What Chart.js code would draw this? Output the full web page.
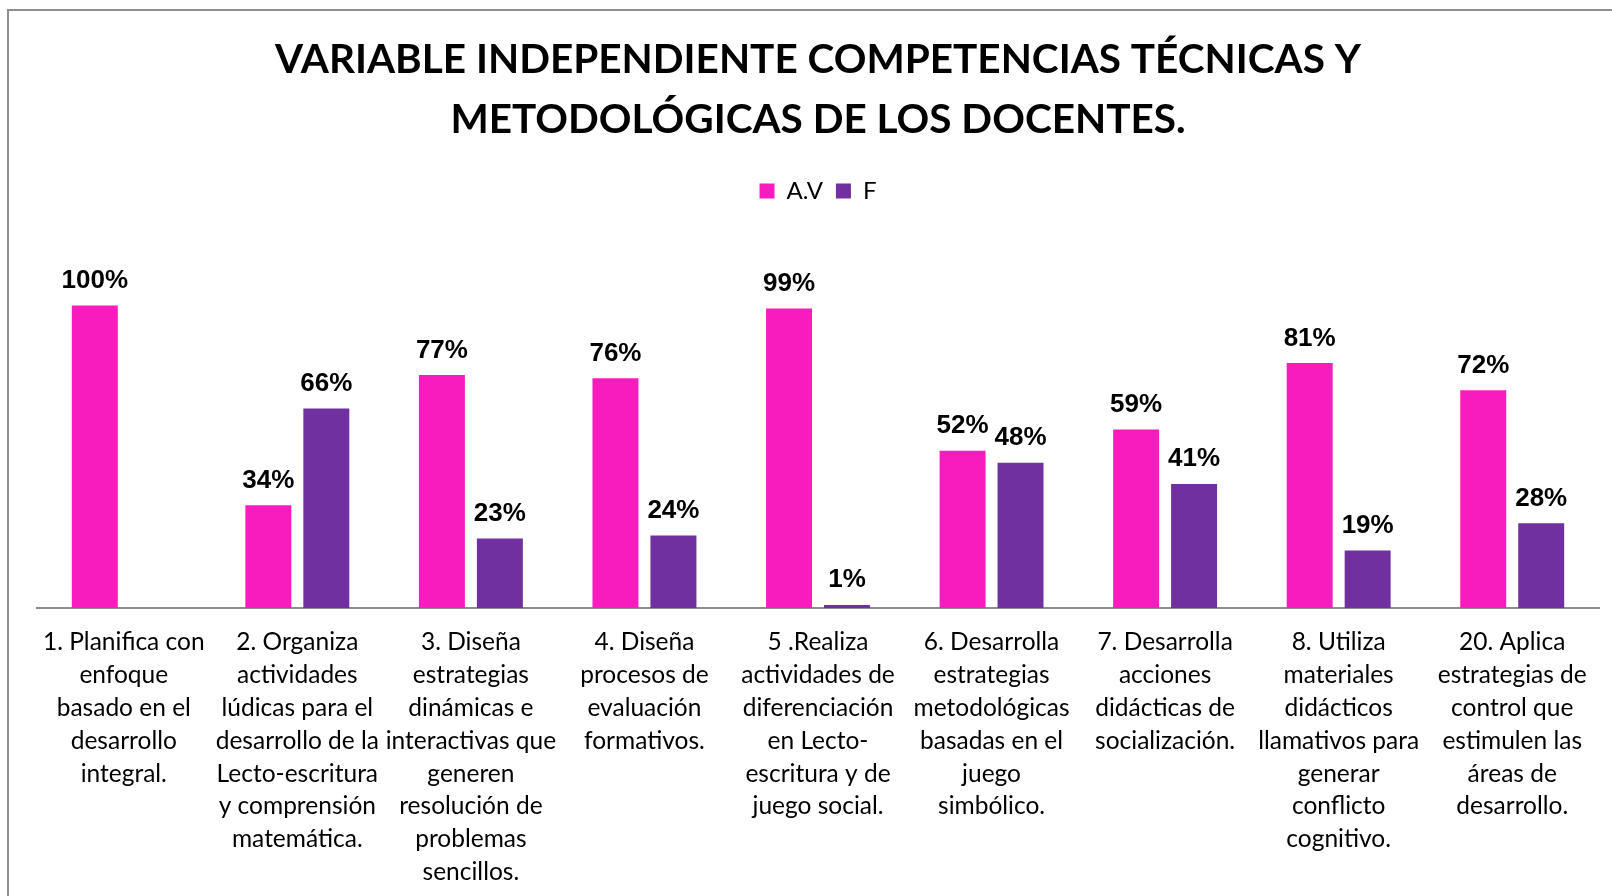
<!DOCTYPE html>
<html>
<head>
<meta charset="utf-8">
<script src="https://cdn.jsdelivr.net/npm/chart.js@4/dist/chart.umd.min.js"></script>
<style>
  html, body { margin: 0; padding: 0; background: #fff; overflow: hidden; width: 1612px; height: 896px; }
  #frame { position: absolute; left: 7px; top: 9px; width: 1620px; height: 900px;
           border-left: 2px solid #8f8f8f; border-top: 2px solid #8f8f8f; background: #fff; }
  canvas { display: block; }
</style>
</head>
<body>
<div id="frame"><canvas id="c" width="1620" height="885"></canvas></div>
<script>
// ---- data ----
const titleLines = ["VARIABLE INDEPENDIENTE COMPETENCIAS TÉCNICAS Y", "METODOLÓGICAS DE LOS DOCENTES."];
const seriesNames = ["A.V", "F"];
const categories = [
  ["1. Planifica con", "enfoque", "basado en el", "desarrollo", "integral."],
  ["2. Organiza", "actividades", "lúdicas para el", "desarrollo de la", "Lecto-escritura", "y comprensión", "matemática."],
  ["3. Diseña", "estrategias", "dinámicas e", "interactivas que", "generen", "resolución de", "problemas", "sencillos."],
  ["4. Diseña", "procesos de", "evaluación", "formativos."],
  ["5 .Realiza", "actividades de", "diferenciación", "en Lecto-", "escritura y de", "juego social."],
  ["6. Desarrolla", "estrategias", "metodológicas", "basadas en el", "juego", "simbólico."],
  ["7. Desarrolla", "acciones", "didácticas de", "socialización."],
  ["8. Utiliza", "materiales", "didácticos", "llamativos para", "generar", "conflicto", "cognitivo."],
  ["20. Aplica", "estrategias de", "control que", "estimulen las", "áreas de", "desarrollo."]
];
const valuesAV = [100, 34, 77, 76, 99, 52, 59, 81, 72];
const valuesF  = [null, 66, 23, 24, 1, 48, 41, 19, 28];

const pink = "#F81CBE";
const purple = "#7030A0";

const valueLabels = {
  id: "valueLabels",
  afterDatasetsDraw(chart) {
    const ctx = chart.ctx;
    ctx.save();
    ctx.font = "bold 26px 'Liberation Sans', Arial, sans-serif";
    ctx.fillStyle = "#000";
    ctx.textAlign = "center";
    ctx.textBaseline = "alphabetic";
    chart.data.datasets.forEach((ds, di) => {
      const meta = chart.getDatasetMeta(di);
      meta.data.forEach((el, i) => {
        const v = ds.data[i];
        if (v === null || v === undefined) return;
        ctx.fillText(v + "%", el.x, el.y - 17.5);
      });
    });
    ctx.restore();
  }
};

new Chart(document.getElementById("c"), {
  type: "bar",
  data: {
    labels: categories,
    datasets: [
      { label: seriesNames[0], data: valuesAV, backgroundColor: pink, borderWidth: 0 },
      { label: seriesNames[1], data: valuesF, backgroundColor: purple, borderWidth: 0 }
    ]
  },
  options: {
    responsive: false,
    devicePixelRatio: 1,
    animation: false,
    events: [],
    layout: { padding: { left: 28, right: 30, top: 0, bottom: 0 } },
    datasets: { bar: { categoryPercentage: 0.668, barPercentage: 0.793 } },
    plugins: {
      title: {
        display: true,
        text: titleLines,
        color: "#000",
        font: { family: "Lato", weight: "bold", size: 40.5, lineHeight: 60 / 40.5 },
        padding: { top: 19, bottom: 16 }
      },
      legend: {
        display: true,
        labels: {
          color: "#000",
          font: { family: "Lato", size: 24 },
          boxWidth: 15, boxHeight: 15,
          padding: 13
        }
      },
      tooltip: { enabled: false }
    },
    scales: {
      x: {
        grid: { display: false, drawTicks: false },
        border: { display: true, color: "#8c8c8c", width: 2 },
        ticks: {
          color: "#000",
          font: { family: "Lato", size: 24.5, lineHeight: 32.8 / 24.5 },
          padding: 18,
          maxRotation: 0, minRotation: 0, autoSkip: false
        },
        afterFit(scale) { scale.height = 288; }
      },
      y: {
        display: false,
        min: 0,
        max: 130.6
      }
    }
  },
  plugins: [valueLabels]
});
</script>
</body>
</html>
